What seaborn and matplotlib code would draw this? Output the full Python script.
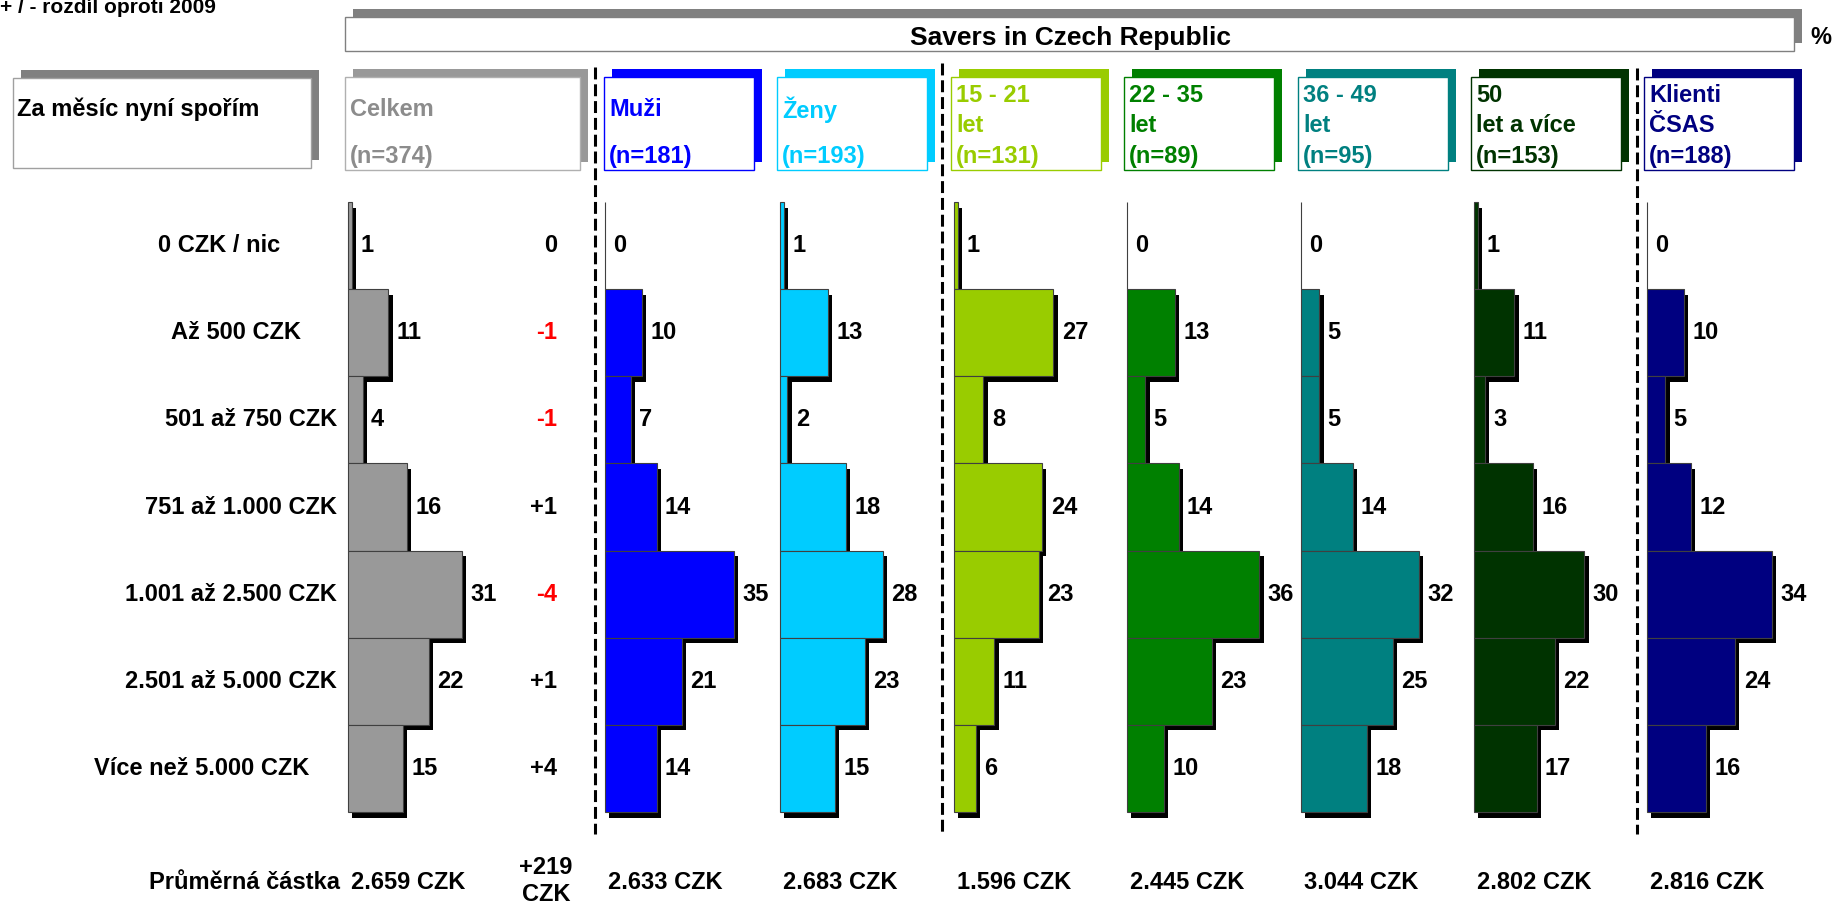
import numpy as np
import pandas as pd
import seaborn as sns
import matplotlib.pyplot as plt
from matplotlib import patheffects as pe
from matplotlib.patches import Rectangle
from matplotlib.lines import Line2D
from matplotlib.transforms import blended_transform_factory

# ---- data ----
categories = ['0 CZK / nic', 'Až 500 CZK', '501 až 750 CZK', '751 až 1.000 CZK',
              '1.001 až 2.500 CZK', '2.501 až 5.000 CZK', 'Více než 5.000 CZK']
groups = ['Celkem', 'Muži', 'Ženy', '15 - 21\nlet', '22 - 35\nlet',
          '36 - 49\nlet', '50\nlet a více', 'Klienti\nČSAS']
sample_sizes = [374, 181, 193, 131, 89, 95, 153, 188]

celkem = [1, 11, 4, 16, 31, 22, 15]
muzi = [0, 10, 7, 14, 35, 21, 14]
zeny = [1, 13, 2, 18, 28, 23, 15]
age_15_21 = [1, 27, 8, 24, 23, 11, 6]
age_22_35 = [0, 13, 5, 14, 36, 23, 10]
age_36_49 = [0, 5, 5, 14, 32, 25, 18]
age_50 = [1, 11, 3, 16, 30, 22, 17]
klienti = [0, 10, 5, 12, 34, 24, 16]
series = [celkem, muzi, zeny, age_15_21, age_22_35, age_36_49, age_50, klienti]

diff_2009 = ['0', '-1', '-1', '+1', '-4', '+1', '+4']
mean_amount = ['2.659 CZK', '2.633 CZK', '2.683 CZK', '1.596 CZK',
               '2.445 CZK', '3.044 CZK', '2.802 CZK', '2.816 CZK']
mean_diff = '+219\nCZK'

colors = ['#999999', '#0000FF', '#00CCFF', '#99CC00',
          '#008000', '#008080', '#003300', '#000080']
text_colors = ['#8C8C8C', '#0000FF', '#00CCFF', '#99CC00',
               '#008000', '#008080', '#003300', '#000080']

# ---- layout (pixels of the 1836x905 image) ----
W, H = 1836, 905
def fx(x):
    return x / W
def fy(y):
    return 1 - y / H

sns.set_theme(style='white')
plt.rcParams['font.family'] = ['Liberation Sans', 'DejaVu Sans']
plt.rcParams['font.weight'] = 'bold'
plt.rcParams['text.color'] = 'black'
FS = 17

fig = plt.figure(figsize=(W / 100, H / 100), dpi=100)
fig.patch.set_facecolor('white')

def box(x, y, w, h, edge, shadow, off=8, lw=1.0):
    fig.add_artist(Rectangle((fx(x + off), fy(y - off + h)), w / W, h / H,
                             facecolor=shadow, edgecolor='none',
                             transform=fig.transFigure, zorder=1))
    fig.add_artist(Rectangle((fx(x), fy(y + h)), w / W, h / H,
                             facecolor='white', edgecolor=edge, linewidth=lw,
                             transform=fig.transFigure, zorder=2))

# top note and title
fig.text(fx(0), fy(13), '+ / - rozdíl oproti 2009', fontsize=15,
         fontweight='bold', ha='left', va='baseline')
box(345, 17, 1449, 34, '#808080', '#808080')
fig.text(fx(1070), fy(38), 'Savers in Czech Republic', fontsize=19,
         fontweight='bold', ha='center', va='center', zorder=3)
fig.text(fx(1810), fy(37), '%', fontsize=FS, fontweight='bold',
         ha='left', va='center')

# row label header
box(13, 78, 298, 90, '#A0A0A0', '#808080')
fig.text(fx(17), fy(109), 'Za měsíc nyní spořím', fontsize=FS,
         fontweight='bold', ha='left', va='center', zorder=3)

# group headers
box_left = [345, 604, 777, 951, 1124, 1298, 1471, 1644]
box_w = [235, 150, 150, 150, 150, 150, 150, 150]
box_edge = ['#B0B0B0'] + colors[1:]
for i, g in enumerate(groups):
    box(box_left[i], 77, box_w[i], 93, box_edge[i], colors[i])
    lines = g.split('\n')
    ys = [95, 125] if len(lines) == 2 else [110]
    for line, yy in zip(lines, ys):
        fig.text(fx(box_left[i] + 5), fy(yy), line, fontsize=FS,
                 fontweight='bold', color=text_colors[i], ha='left',
                 va='center', zorder=3)
    fig.text(fx(box_left[i] + 5), fy(157), '(n={})'.format(sample_sizes[i]),
             fontsize=FS, fontweight='bold', color=text_colors[i],
             ha='left', va='center', zorder=3)

# bars
bar_left = [348, 605, 780, 954, 1127, 1301, 1474, 1647]
bar_top, bar_bottom = 202, 812
px_per_unit = 3.68
xmax = 40
axes = []
for i, vals in enumerate(series):
    ax = fig.add_axes([fx(bar_left[i]), fy(bar_bottom),
                       xmax * px_per_unit / W, (bar_bottom - bar_top) / H])
    df = pd.DataFrame({'kategorie': categories, 'podil': vals})
    sns.barplot(data=df, x='podil', y='kategorie', orient='h',
                color=colors[i], saturation=1, width=1,
                edgecolor='#404040', linewidth=0.8, ax=ax)
    for p in ax.patches:
        p.set_clip_on(False)
        p.set_path_effects([pe.SimplePatchShadow(offset=(3, -4),
                                                 shadow_rgbFace='black',
                                                 alpha=1.0),
                            pe.Normal()])
    for j, v in enumerate(vals):
        ax.annotate(str(v), xy=(v, j), xytext=(6, 0),
                    textcoords='offset points', ha='left', va='center',
                    fontsize=FS, fontweight='bold', color='black',
                    annotation_clip=False)
    ax.set_xlim(0, xmax)
    ax.set_ylim(len(categories) - 0.5, -0.5)
    ax.axis('off')
    axes.append(ax)

# row labels and difference column
trans = blended_transform_factory(fig.transFigure, axes[0].transData)
label_right = [280, 301, 337, 337, 337, 337, 309]
for j, c in enumerate(categories):
    axes[0].text(fx(label_right[j]), j, c, transform=trans, fontsize=FS,
                 fontweight='bold', ha='right', va='center', color='black')
    axes[0].text(fx(557), j, diff_2009[j], transform=trans, fontsize=FS,
                 fontweight='bold', ha='right', va='center',
                 color='#FF0000' if diff_2009[j].startswith('-') else 'black')

# dashed separators
for x, y0 in [(595, 67), (942, 63), (1637, 68)]:
    fig.add_artist(Line2D([fx(x), fx(x)], [fy(y0), fy(834)],
                          transform=fig.transFigure, color='black',
                          linewidth=2.2, linestyle=(0, (3.9, 1.6))))

# average amounts
fig.text(fx(340), fy(882), 'Průměrná částka', fontsize=FS,
         fontweight='bold', ha='right', va='center')
for i, m in enumerate(mean_amount):
    fig.text(fx(bar_left[i] + 3), fy(882), m, fontsize=FS,
             fontweight='bold', ha='left', va='center')
fig.text(fx(546), fy(881), mean_diff, fontsize=FS, fontweight='bold',
         ha='center', va='center', multialignment='center', linespacing=1.25)

plt.savefig('out.png', dpi=100, facecolor='white')
